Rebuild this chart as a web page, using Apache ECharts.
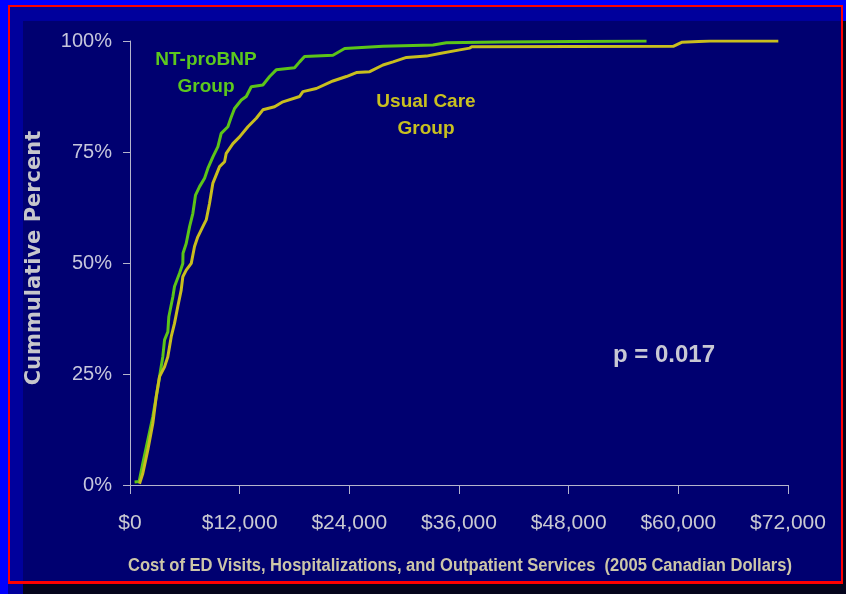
<!DOCTYPE html>
<html>
<head>
<meta charset="utf-8">
<script src="https://cdn.jsdelivr.net/npm/echarts@6/dist/echarts.min.js"></script>
<style>
  html, body { margin: 0; padding: 0; background: #04041c; width: 846px; height: 594px; overflow: hidden; }
  .bg { position: absolute; }
  #chart { position: absolute; left: 0; top: 0; width: 846px; height: 594px; }
</style>
</head>
<body>
<div class="bg" style="left:0;top:0;width:846px;height:21px;background:#0000ff"></div>
<div class="bg" style="left:0;top:0;width:8px;height:594px;background:#0000ff"></div>
<div class="bg" style="left:8px;top:5px;width:15px;height:589px;background:#00009c"></div>
<div class="bg" style="left:8px;top:5px;width:835px;height:16px;background:#00009c"></div>
<div class="bg" style="left:23px;top:21px;width:820px;height:563px;background:#000070"></div>
<div class="bg" style="left:8px;top:5px;width:835px;height:579px;box-sizing:border-box;border:2px solid #ff0000;border-bottom-width:3px"></div>
<div id="chart"></div>
<script>
// Cumulative percent curves (cost in 2005 CAD, cumulative %)
const ntCost = [500, 1000, 1400, 1950, 2500, 2870, 3230, 3590, 3780, 4140, 4250, 4690, 4870, 5420, 5780, 5800, 6150, 6520, 6880, 7170, 7610, 8160, 8520, 9070, 9620, 9980, 10710, 11080, 11440, 12180, 12720, 13270, 14540, 15280, 16000, 18010, 18560, 19100, 22210, 23490, 27680, 33160, 34620, 40460, 56520];
const ntPct  = [0.7, 0.8, 4.9, 10.1, 15.4, 19.9, 24.4, 28.9, 32.7, 34.5, 37.9, 42.4, 44.7, 47.7, 49.9, 52.2, 54.4, 58.2, 61.2, 65.3, 67.2, 69.1, 71.3, 73.9, 76.2, 79.2, 80.7, 82.9, 84.8, 86.7, 87.5, 89.7, 90.1, 92.0, 93.5, 94.0, 95.3, 96.5, 96.8, 98.3, 98.8, 99.1, 99.6, 99.8, 100];

const ucCost = [1040, 1400, 1950, 2500, 2870, 3230, 3780, 4140, 4510, 4870, 5230, 5600, 5780, 6150, 6700, 7060, 7420, 7970, 8340, 8700, 9070, 9800, 10350, 10530, 11260, 11990, 12900, 13820, 14540, 15820, 16730, 18560, 18920, 20390, 22210, 23680, 24770, 26230, 27680, 28780, 30250, 32440, 33890, 36080, 37180, 37400, 59440, 60360, 63460, 70940];
const ucPct  = [0.3, 2.6, 7.9, 13.9, 19.9, 24.4, 26.6, 28.9, 33.4, 36.4, 40.2, 43.9, 46.9, 48.4, 49.9, 53.7, 55.9, 58.2, 59.7, 63.4, 68.0, 71.7, 72.8, 74.7, 76.9, 78.4, 80.7, 82.6, 84.5, 85.2, 86.3, 87.5, 88.6, 89.3, 91.0, 92.0, 92.9, 93.1, 94.6, 95.3, 96.3, 96.6, 97.2, 98.0, 98.4, 98.7, 98.8, 99.7, 100, 100];

const xTicks = [0, 12000, 24000, 36000, 48000, 60000, 72000];
const yTicks = [0, 25, 50, 75, 100];

const seriesNames = ['NT-proBNP Group', 'Usual Care Group'];
const xTitle = 'Cost of ED Visits, Hospitalizations, and Outpatient Services  (2005 Canadian Dollars)';
const yTitle = 'Cummulative Percent';
const pText = 'p = 0.017';

function zip(a, b) { return a.map((v, i) => [v, b[i]]); }
function money(v) { return '$' + String(v).replace(/\B(?=(\d{3})+(?!\d))/g, ','); }

const xTitleFont = 'bold 18px "Liberation Sans", Arial, sans-serif';
const mctx = document.createElement('canvas').getContext('2d');
mctx.font = xTitleFont;
const xTitleScale = 664 / mctx.measureText(xTitle).width;

const chart = echarts.init(document.getElementById('chart'), null, { renderer: 'canvas' });
const axisCol = '#b4b4cc';
chart.setOption({
  backgroundColor: 'transparent',
  animation: false,
  grid: { left: 130, right: 58, top: 41, bottom: 109 },
  xAxis: {
    type: 'value', min: xTicks[0], max: xTicks[xTicks.length - 1], interval: 12000,
    axisLine: { show: true, lineStyle: { color: axisCol, width: 1 } },
    axisTick: { show: true, length: 9, lineStyle: { color: axisCol } },
    splitLine: { show: false },
    axisLabel: { color: '#cacad2', fontSize: 21, fontFamily: 'Liberation Sans, Arial, sans-serif', margin: 28, formatter: v => money(v) }
  },
  yAxis: {
    type: 'value', min: yTicks[0], max: yTicks[yTicks.length - 1], interval: 25,
    axisLine: { show: true, lineStyle: { color: axisCol, width: 1 } },
    axisTick: { show: true, length: 7, lineStyle: { color: axisCol } },
    splitLine: { show: false },
    axisLabel: { color: '#c6c6dc', fontSize: 20, fontFamily: 'Liberation Sans, Arial, sans-serif', margin: 18, formatter: '{value}%' }
  },
  series: [
    { name: seriesNames[0], type: 'line', data: zip(ntCost, ntPct), showSymbol: false, smooth: false,
      lineStyle: { color: '#5cc418', width: 3 }, z: 3 },
    { name: seriesNames[1], type: 'line', data: zip(ucCost, ucPct), showSymbol: false, smooth: false,
      lineStyle: { color: '#c8be1e', width: 3 }, z: 4 }
  ],
  graphic: [
    { type: 'text', x: 206, y: 73, style: { text: 'NT-proBNP\nGroup', fill: '#5cc81e', font: 'bold 19px Liberation Sans, Arial, sans-serif', align: 'center', verticalAlign: 'middle', lineHeight: 27 } },
    { type: 'text', x: 426, y: 115, style: { text: 'Usual Care\nGroup', fill: '#c8c020', font: 'bold 19px Liberation Sans, Arial, sans-serif', align: 'center', verticalAlign: 'middle', lineHeight: 27 } },
    { type: 'text', x: 664, y: 355, style: { text: pText, fill: '#c8c8d4', font: 'bold 24px Liberation Sans, Arial, sans-serif', align: 'center', verticalAlign: 'middle' } },
    { type: 'text', x: 460, y: 566, scaleX: xTitleScale, style: { text: xTitle, fill: '#ccc6a8', font: xTitleFont, align: 'center', verticalAlign: 'middle' } },
    { type: 'text', x: 35, y: 258, rotation: Math.PI / 2, style: { text: yTitle, fill: '#c6c6cc', font: 'bold 21px DejaVu Sans, sans-serif', align: 'center', verticalAlign: 'middle' } }
  ]
});
</script>
</body>
</html>
